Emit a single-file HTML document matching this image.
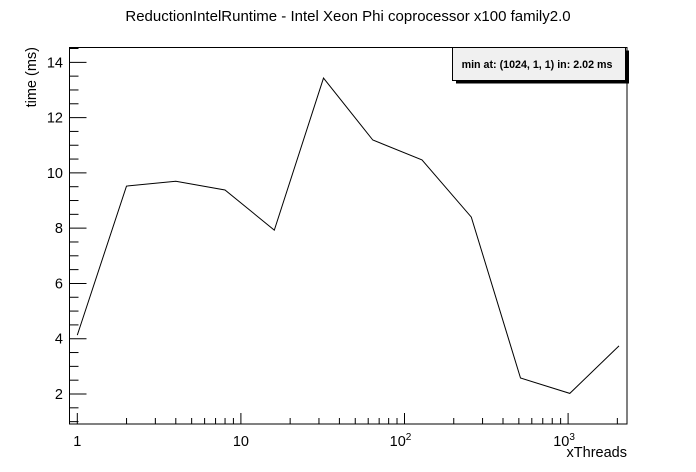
<!DOCTYPE html>
<html><head><meta charset="utf-8"><style>
body{margin:0;background:#fff;}
svg{display:block;font-family:"Liberation Sans",Arial,sans-serif;}
</style></head><body>
<svg id="chart" width="696" height="472" viewBox="0 0 696 472">
<rect width="696" height="472" fill="#fff"/>
<text x="348" y="21" text-anchor="middle" font-size="15">ReductionIntelRuntime - Intel Xeon Phi coprocessor x100 family2.0</text>
<text transform="translate(36,47) rotate(-90)" text-anchor="end" font-size="14.5">time (ms)</text>
<text x="627" y="457" text-anchor="end" font-size="14.5">xThreads</text>
<rect x="69.5" y="47.5" width="557.5" height="376.5" fill="none" stroke="#000" stroke-width="1"/>
<g id="axes"></g>
<g id="series"></g>
<g>
<rect x="456" y="50.5" width="173" height="33" fill="#000"/>
<rect x="452.5" y="47.5" width="173" height="33" fill="#f0f0f0" stroke="#000" stroke-width="1"/>
<text x="537" y="68" text-anchor="middle" font-size="10.7" font-weight="bold">min at: (1024, 1, 1) in: 2.02 ms</text>
</g>
</svg>
<script>
const threads=[1,2,4,8,16,32,64,128,256,512,1024,2048];
const times=[4.13,9.52,9.70,9.38,7.93,13.43,11.19,10.47,8.40,2.58,2.02,3.74];
const yTicks=[2,4,6,8,10,12,14];
const xDecades=[1,10,100,1000];

const NS="http://www.w3.org/2000/svg";
const L=69.5,R=627,T=47.5,B=424;
function xs(v){return 77.3+163.6*Math.log10(v);}
function ys(v){return 394-(v-2)*27.64;}
const ax=document.getElementById('axes');
function line(x1,y1,x2,y2,p){const l=document.createElementNS(NS,'line');l.setAttribute('x1',x1);l.setAttribute('y1',y1);l.setAttribute('x2',x2);l.setAttribute('y2',y2);l.setAttribute('stroke','#000');p.appendChild(l);return l;}
function txt(x,y,s,anchor,p){const t=document.createElementNS(NS,'text');t.setAttribute('x',x);t.setAttribute('y',y);t.setAttribute('font-size','14.5');t.setAttribute('text-anchor',anchor);t.textContent=s;p.appendChild(t);return t;}
for(let v=1;v<=14.5;v+=0.5){
  const y=ys(v); if(y>B||y<T)continue;
  const major=yTicks.includes(v);
  const l=line(L,y,L+(major?17:9),y,ax);
  
  
}
yTicks.forEach(v=>{
  const t=txt(63,ys(v)+5,String(v),'end',ax);
  
  
});
xDecades.forEach(d=>{
  for(let m=1;m<=9;m++){
    const v=d*m, x=xs(v); if(x<L||x>R)continue;
    const l=line(x,B,x,B-(m===1?11:6),ax);
    
    
  }
});
const lbls=[['1',''],['10',''],['10','2'],['10','3']];
xDecades.forEach((d,i)=>{
  const t=document.createElementNS(NS,'text');
  t.setAttribute('x',xs(d)+(lbls[i][1]?-4:0));t.setAttribute('y',446);t.setAttribute('font-size','14.5');t.setAttribute('text-anchor','middle');
  t.textContent=lbls[i][0];
  if(lbls[i][1]){const s=document.createElementNS(NS,'tspan');s.setAttribute('dy','-6');s.setAttribute('font-size','10');s.textContent=lbls[i][1];t.appendChild(s);}
  
  
  ax.appendChild(t);
});
const pl=document.createElementNS(NS,'polyline');
pl.setAttribute('points',threads.map((x,i)=>xs(x).toFixed(1)+','+ys(times[i]).toFixed(1)).join(' '));
pl.setAttribute('fill','none');pl.setAttribute('stroke','#000');pl.setAttribute('stroke-width','1');


document.getElementById('series').appendChild(pl);
</script>
</body></html>
